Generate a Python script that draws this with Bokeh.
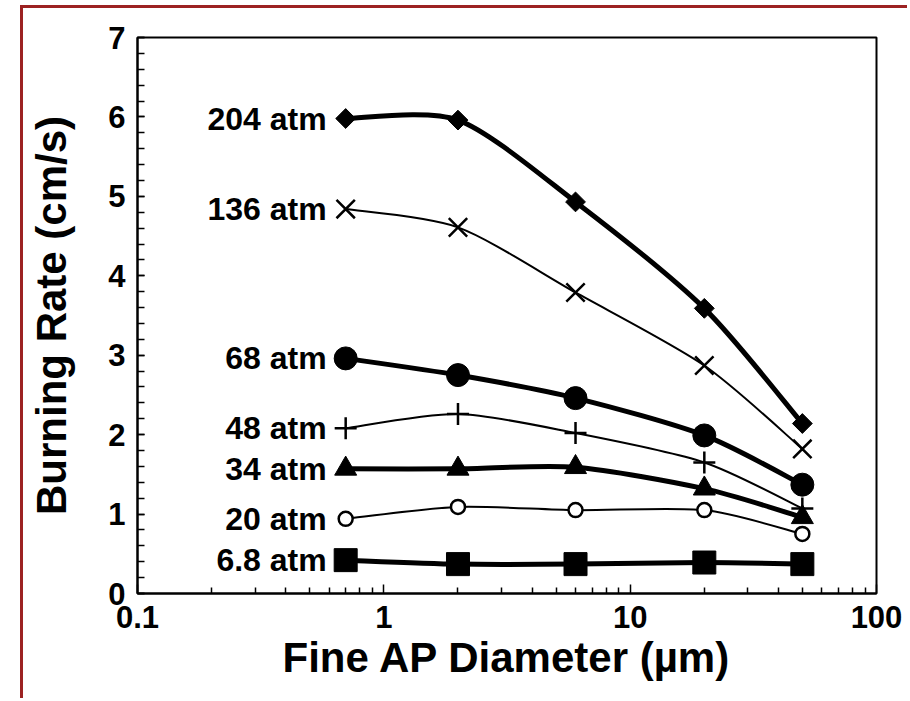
import math
from bokeh.plotting import figure
from bokeh.models import FixedTicker, SingleIntervalTicker, ColumnDataSource
from bokeh.core.properties import value
from bokeh.embed import file_html
from bokeh.resources import INLINE

# ---- data ----
diameter = [0.7, 2, 6, 20, 50]          # Fine AP diameter (um)
rate_204 = [5.98, 5.96, 4.93, 3.59, 2.14]
rate_136 = [4.84, 4.61, 3.79, 2.87, 1.82]
rate_68 = [2.96, 2.75, 2.46, 1.99, 1.37]
rate_48 = [2.08, 2.26, 2.02, 1.65, 1.07]
rate_34 = [1.57, 1.57, 1.59, 1.32, 0.96]
rate_20 = [0.94, 1.09, 1.05, 1.05, 0.75]
rate_6_8 = [0.42, 0.37, 0.37, 0.39, 0.37]
series_labels = ["204 atm", "136 atm", "68 atm", "48 atm", "34 atm", "20 atm", "6.8 atm"]
x_major_ticks = [0.1, 1, 10, 100]
x_tick_labels = ["0.1", "1", "10", "100"]
x_minor_ticks = [k * 10.0 ** e for e in (-1, 0, 1) for k in range(2, 10)]

FONT = "Liberation Sans"
RED = "#9c2222"

p = figure(width=887, height=693, x_axis_type="log", x_range=(0.1, 100), y_range=(0, 7),
           output_backend="svg", toolbar_location=None,
           min_border_left=114, min_border_right=34, min_border_top=29, min_border_bottom=108)
p.margin = (5, 0, 0, 20)
p.styles = {"border-left": f"3px solid {RED}", "border-top": f"3px solid {RED}"}

p.grid.visible = False
p.outline_line_color = "black"
p.outline_line_width = 2
p.background_fill_color = "white"
p.border_fill_color = "white"

TENSION = 7.5


def smooth_segments(xs, ys):
    lx = [math.log10(v) for v in xs]
    n = len(xs)
    d = dict(x0=[], y0=[], x1=[], y1=[], cx0=[], cy0=[], cx1=[], cy1=[])
    for i in range(n - 1):
        a = max(i - 1, 0)
        b = min(i + 2, n - 1)
        c1x = lx[i] + (lx[i + 1] - lx[a]) / TENSION
        c1y = ys[i] + (ys[i + 1] - ys[a]) / TENSION
        c2x = lx[i + 1] - (lx[b] - lx[i]) / TENSION
        c2y = ys[i + 1] - (ys[b] - ys[i]) / TENSION
        d["x0"].append(xs[i]); d["y0"].append(ys[i])
        d["x1"].append(xs[i + 1]); d["y1"].append(ys[i + 1])
        d["cx0"].append(10 ** c1x); d["cy0"].append(c1y)
        d["cx1"].append(10 ** c2x); d["cy1"].append(c2y)
    return ColumnDataSource(d)


series = [
    (rate_204, 5, dict(marker="square", angle=math.pi / 4, size=14, fill_color="black", line_width=1)),
    (rate_136, 2, dict(marker="x", size=26, fill_color=None, line_width=2.5)),
    (rate_68, 5, dict(marker="circle", size=23, fill_color="black", line_width=1)),
    (rate_48, 2, dict(marker="cross", size=22, fill_color=None, line_width=2.5)),
    (rate_34, 5, dict(marker="triangle", size=22, fill_color="black", line_width=1)),
    (rate_20, 2, dict(marker="circle", size=14, fill_color="white", line_width=2.5)),
    (rate_6_8, 5, dict(marker="square", size=23, fill_color="black", line_width=1)),
]

for ys, lw, mk in series:
    src = smooth_segments(diameter, ys)
    p.bezier(x0="x0", y0="y0", x1="x1", y1="y1", cx0="cx0", cy0="cy0", cx1="cx1", cy1="cy1",
             source=src, line_color="black", line_width=lw)
for ys, lw, mk in series:
    p.scatter(x=diameter, y=ys, line_color="black", **mk)

first_vals = [s[0][0] for s in series]
p.text(x=[diameter[0]] * len(series_labels), y=first_vals, text=series_labels,
       x_offset=-19, text_align="right", text_baseline="middle",
       text_font=value(FONT), text_font_style="bold", text_font_size="32px", text_color="black")

# x axis
p.xaxis.ticker = FixedTicker(ticks=x_major_ticks, minor_ticks=x_minor_ticks)
p.xaxis.major_label_overrides = {t: l for t, l in zip(x_major_ticks, x_tick_labels)}
p.xaxis.axis_label = "Fine AP Diameter (\u00b5m)"
# y axis
p.yaxis.ticker = SingleIntervalTicker(interval=1, num_minor_ticks=5)
p.yaxis.axis_label = "Burning Rate (cm/s)"

for ax in (p.xaxis[0], p.yaxis[0]):
    ax.axis_line_color = "black"
    ax.axis_line_width = 2
    ax.major_tick_line_color = "black"
    ax.minor_tick_line_color = "black"
    ax.major_tick_line_width = 1.5
    ax.minor_tick_line_width = 1.5
    ax.major_tick_out = 0
    ax.minor_tick_out = 0
    ax.major_label_text_font = FONT
    ax.major_label_text_font_style = "bold"
    ax.major_label_text_font_size = "31px"
    ax.major_label_text_color = "black"
    ax.axis_label_text_font = FONT
    ax.axis_label_text_font_style = "bold"
    ax.axis_label_text_font_size = "42px"
    ax.axis_label_text_color = "black"

p.xaxis.major_tick_in = 9
p.xaxis.minor_tick_in = 6
p.yaxis.major_tick_in = 7
p.yaxis.minor_tick_in = 7
p.xaxis.major_label_standoff = 12
p.xaxis.axis_label_standoff = 3
p.yaxis.major_label_standoff = 12
p.yaxis.axis_label_standoff = 30

open("out.html", "w").write(file_html(p, INLINE))
